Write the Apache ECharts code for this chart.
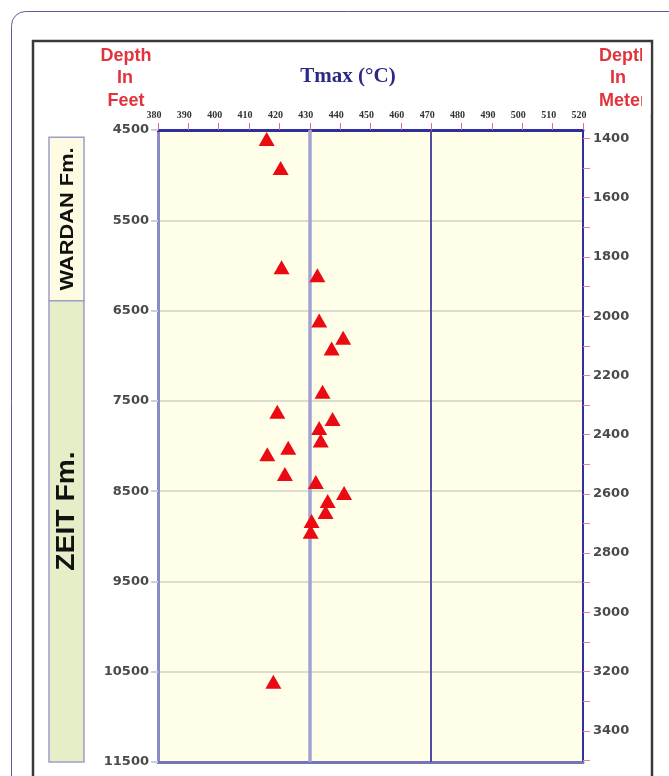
<!DOCTYPE html>
<html>
<head>
<meta charset="utf-8">
<script src="https://cdn.jsdelivr.net/npm/echarts@6/dist/echarts.min.js"></script>
<style>
html,body{margin:0;padding:0;background:#fff;}
#c{width:669px;height:776px;}
</style>
</head>
<body>
<div id="c"></div>
<script>
// ---- data ----
var tmax = [415.8, 420.4, 420.7, 432.5, 433.1, 441.0, 437.2, 434.2, 419.3, 437.5, 433.1,
            433.6, 422.9, 416.0, 421.8, 432.0, 441.3, 435.9, 435.2, 430.6, 430.3, 418.0];
var depthFt = [4600, 4920, 6020, 6110, 6610, 6800, 6920, 7400, 7620, 7700, 7800,
               7940, 8020, 8090, 8310, 8400, 8520, 8610, 8730, 8830, 8950, 10610];
var tmaxRefLines = [430, 470];
var formations = ['WARDAN Fm.', 'ZEIT Fm.'];
var formationTop = [4580, 6390];
var formationBase = [6390, 11500];
var formationLabelDepth = [5485, 8720];
var meterTicks = [1400,1500,1600,1700,1800,1900,2000,2100,2200,2300,2400,2500,2600,2700,2800,2900,3000,3100,3200,3300,3400,3500];
var meterLabels = [1400,1600,1800,2000,2200,2400,2600,2800,3000,3200,3400];
var ftMin = 4500, ftMax = 11500, ftStep = 1000;
var tMin = 380, tMax = 520, tStep = 10;
var FT2M = 0.3048;

var chart = echarts.init(document.getElementById('c'), null, {renderer: 'canvas'});

var points = tmax.map(function (t, i) { return [t, depthFt[i]]; });
var formData = formations.map(function (n, i) {
  return [0, formationTop[i], formationBase[i], formationLabelDepth[i], n];
});
function plain(v) { return String(Math.round(v)); }

var redHdr = {fill: '#e2333c', font: 'bold 18px "Liberation Sans", Arial, sans-serif', textAlign: 'center', textVerticalAlign: 'middle'};
var redHdrL = {fill: '#e2333c', font: 'bold 18px "Liberation Sans", Arial, sans-serif', textAlign: 'left', textVerticalAlign: 'middle'};

var option = {
  backgroundColor: '#ffffff',
  animation: false,
  grid: [
    {left: 158, top: 130, width: 425, height: 632, show: true, backgroundColor: '#fefee9', borderWidth: 0},
    {left: 49, top: 130, width: 35, height: 632, show: false}
  ],
  xAxis: [
    {
      type: 'value', gridIndex: 0, position: 'top', min: tMin, max: tMax, interval: tStep,
      axisLine: {show: true, onZero: false, lineStyle: {color: '#2e2e9e', width: 3}},
      axisTick: {show: true, length: 7, lineStyle: {color: '#e0707e', width: 1}},
      axisLabel: {fontFamily: '"Liberation Serif", serif', fontWeight: 'bold', fontSize: 10, color: '#333', margin: 10, padding: [0, 8, 0, 0], formatter: plain},
      splitLine: {show: false}
    },
    {
      type: 'value', gridIndex: 0, position: 'bottom', min: tMin, max: tMax,
      axisLine: {show: true, onZero: false, lineStyle: {color: '#7474ba', width: 3}},
      axisTick: {show: false}, axisLabel: {show: false}, splitLine: {show: false}
    },
    {
      type: 'value', gridIndex: 1, min: 0, max: 1, show: false
    }
  ],
  yAxis: [
    {
      type: 'value', gridIndex: 0, position: 'left', inverse: true, min: ftMin, max: ftMax, interval: ftStep,
      axisLine: {show: true, onZero: false, lineStyle: {color: '#8a8ac6', width: 3}},
      axisTick: {show: true, length: 7, lineStyle: {color: '#cfcfcf', width: 2}},
      axisLabel: {fontFamily: '"DejaVu Sans", sans-serif', fontWeight: 'bold', fontSize: 13, color: '#4a4a4a', margin: 9, formatter: plain},
      splitLine: {show: true, lineStyle: {color: '#dcdccf', width: 2}}
    },
    {
      type: 'value', gridIndex: 0, position: 'right', inverse: true, min: ftMin * FT2M, max: ftMax * FT2M,
      axisLine: {show: true, onZero: false, lineStyle: {color: '#3030a0', width: 2}},
      axisTick: {show: true, length: 7, customValues: meterTicks, lineStyle: {color: '#e8809a', width: 1}},
      axisLabel: {customValues: meterLabels, fontFamily: '"DejaVu Sans", sans-serif', fontWeight: 'bold', fontSize: 13, color: '#4a4a4a', margin: 10, formatter: plain},
      splitLine: {show: false}
    },
    {
      type: 'value', gridIndex: 1, inverse: true, min: ftMin, max: ftMax, show: false
    }
  ],
  series: [
    {
      type: 'custom', xAxisIndex: 2, yAxisIndex: 2, silent: true,
      data: formData,
      renderItem: function (params, api) {
        var p0 = api.coord([0, api.value(1)]);
        var p1 = api.coord([1, api.value(2)]);
        var pl = api.coord([0.5, api.value(3)]);
        var idx = params.dataIndex;
        var fill = idx === 0 ? '#fdfbe1' : '#e5eec6';
        var fs = idx === 0 ? 19 : 25;
        var sx = idx === 0 ? 1.15 : 1.13;
        return {
          type: 'group',
          children: [
            {type: 'rect', shape: {x: p0[0], y: p0[1], width: p1[0] - p0[0], height: p1[1] - p0[1]},
             style: {fill: fill, stroke: '#9d9dcb', lineWidth: 1.5}},
            {type: 'text', x: pl[0] + 1, y: pl[1], rotation: Math.PI / 2, scaleX: sx,
             style: {text: formations[idx], fill: '#111', font: 'bold ' + fs + 'px "Liberation Sans", Arial, sans-serif',
                     textAlign: 'center', textVerticalAlign: 'middle'}}
          ]
        };
      }
    },
    {
      type: 'scatter', xAxisIndex: 0, yAxisIndex: 0, z: 10,
      data: points,
      symbol: 'triangle', symbolSize: [16, 14],
      itemStyle: {color: '#ec0a12', opacity: 1},
      markLine: {
        silent: true, symbol: ['none', 'none'], label: {show: false}, z: 3,
        data: [
          {xAxis: tmaxRefLines[0], lineStyle: {color: '#a2a2d4', width: 3.5, type: 'solid'}},
          {xAxis: tmaxRefLines[1], lineStyle: {color: '#4e4ea6', width: 2, type: 'solid'}}
        ]
      }
    }
  ],
  graphic: [
    {type: 'rect', shape: {x: 11.5, y: 11.5, width: 740, height: 840, r: 14}, style: {fill: 'none', stroke: '#5d5d9d', lineWidth: 1}, silent: true},
    {type: 'rect', shape: {x: 33, y: 41, width: 619, height: 800}, style: {fill: 'none', stroke: '#3a3a3a', lineWidth: 2.5}, silent: true},
    {type: 'text', x: 126, y: 56, style: Object.assign({text: 'Depth'}, redHdr)},
    {type: 'text', x: 125, y: 78, style: Object.assign({text: 'In'}, redHdr)},
    {type: 'text', x: 126, y: 101, style: Object.assign({text: 'Feet'}, redHdr)},
    {type: 'text', x: 599, y: 56, style: Object.assign({text: 'Depth'}, redHdrL)},
    {type: 'text', x: 610, y: 78, style: Object.assign({text: 'In'}, redHdrL)},
    {type: 'text', x: 599, y: 101, style: Object.assign({text: 'Meter'}, redHdrL)},
    {type: 'rect', shape: {x: 642, y: 44, width: 8.5, height: 70}, style: {fill: '#ffffff'}, z: 200, silent: true},
    {type: 'text', x: 348, y: 77, style: {text: 'Tmax (°C)', fill: '#2b2b86', font: 'bold 21px "Liberation Serif", "Times New Roman", serif', textAlign: 'center', textVerticalAlign: 'middle'}}
  ]
};
chart.setOption(option);
</script>
</body>
</html>
